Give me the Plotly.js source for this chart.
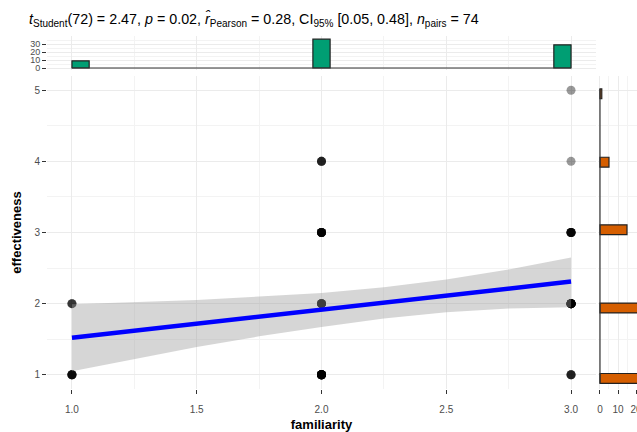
<!DOCTYPE html>
<html>
<head>
<meta charset="utf-8">
<script src="https://cdn.plot.ly/plotly-3.0.1.min.js"></script>
<style>html,body{margin:0;padding:0;background:#fff}#chart{width:637px;height:432px}</style>
</head>
<body>
<div id="chart"></div>
<script>
// ---- data ----
const cellFamiliarity   = [1, 1, 2, 2, 2, 2, 3, 3, 3, 3, 3];
const cellEffectiveness = [1, 2, 1, 2, 3, 4, 1, 2, 3, 4, 5];
const cellCount         = [6, 3, 16, 8, 8, 4, 4, 16, 7, 1, 1];

const familiarityLevels = [1, 2, 3];
const familiarityCounts = [9, 36, 29];
const effectivenessLevels = [1, 2, 3, 4, 5];
const effectivenessCounts = [26, 27, 15, 5, 1];

const fitX    = [1, 1.25, 1.5, 1.75, 2, 2.25, 2.5, 2.75, 3];
const fitY    = [1.52, 1.62, 1.72, 1.82, 1.91, 2.01, 2.11, 2.21, 2.31];
const fitLow  = [1.05, 1.22, 1.39, 1.54, 1.67, 1.79, 1.88, 1.93, 1.95];
const fitHigh = [1.99, 2.02, 2.05, 2.10, 2.15, 2.23, 2.34, 2.48, 2.65];

const xTickVals = [1, 1.5, 2, 2.5, 3];
const xTickText = ['1.0', '1.5', '2.0', '2.5', '3.0'];

// ---- build observations ----
const obsX = [], obsY = [];
cellCount.forEach((n, i) => { for (let k = 0; k < n; k++) { obsX.push(cellFamiliarity[i]); obsY.push(cellEffectiveness[i]); } });

const W = 637, H = 432;
const px = v => v / W, py = v => 1 - v / H;
const grid = '#EBEBEB', minorGrid = '#F3F3F3', tickCol = '#333333', lblCol = '#4D4D4D';
const FF = 'Liberation Sans, Arial, sans-serif';
const font = {family: FF, size: 10, color: lblCol};

const topW = 0.069, sideW = 0.138;
const topOffset = [0, -topW / 2, -topW];
const sideOffset = [-0.12, -0.13, -0.03, -0.08, -0.12];

const traces = [
  {type: 'scatter', mode: 'markers', x: obsX, y: obsY, xaxis: 'x', yaxis: 'y',
   marker: {color: '#000', size: 9, opacity: 0.4, line: {width: 0}}, hoverinfo: 'skip'},
  {type: 'scatter', mode: 'lines', x: fitX.concat(fitX.slice().reverse()), y: fitHigh.concat(fitLow.slice().reverse()),
   fill: 'toself', fillcolor: 'rgba(153,153,153,0.4)', line: {width: 0}, xaxis: 'x', yaxis: 'y', hoverinfo: 'skip'},
  {type: 'scatter', mode: 'lines', x: fitX, y: fitY, line: {color: '#0000FF', width: 4.5}, xaxis: 'x', yaxis: 'y'},
  // top histogram
  {type: 'scatter', mode: 'lines', x: [familiarityLevels[0], familiarityLevels[familiarityLevels.length - 1]], y: [0, 0],
   line: {color: tickCol, width: 1.2}, xaxis: 'x2', yaxis: 'y2'},
  {type: 'bar', x: familiarityLevels, y: familiarityCounts, width: topW, offset: topOffset,
   marker: {color: '#009E73', line: {color: '#222', width: 1.2}}, xaxis: 'x2', yaxis: 'y2'},
  // right histogram
  {type: 'scatter', mode: 'lines', x: [0, 0],
   y: [effectivenessLevels[0] + sideOffset[0], effectivenessLevels[4] + sideOffset[4] + sideW],
   line: {color: tickCol, width: 1.2}, xaxis: 'x3', yaxis: 'y3'},
  {type: 'bar', orientation: 'h', y: effectivenessLevels, x: effectivenessCounts, width: sideW, offset: sideOffset,
   marker: {color: '#D55E00', line: {color: '#222', width: 1.2}}, xaxis: 'x3', yaxis: 'y3'}
];

const mainL = 47, mainR = 596, mainT = 76, mainB = 389;
const layout = {
  width: W, height: H, margin: {l: 0, r: 0, t: 0, b: 0},
  paper_bgcolor: '#fff', plot_bgcolor: '#fff', showlegend: false, bargap: 0,
  font: font,
  xaxis: {domain: [px(mainL), px(mainR)], range: [0.9, 3.1], anchor: 'y', tickvals: xTickVals, ticktext: xTickText,
    ticks: 'outside', ticklen: 4, tickcolor: tickCol, tickwidth: 1, tickfont: font, ticklabelstandoff: 7,
    showgrid: true, gridcolor: grid, gridwidth: 1, zeroline: false, showline: false,
    minor: {tickvals: [1.25, 1.75, 2.25, 2.75], showgrid: true, gridcolor: minorGrid, gridwidth: 1},
    title: {text: '<b>familiarity</b>', font: {family: FF, size: 13, color: '#000'}, standoff: 8}},
  yaxis: {domain: [py(mainB), py(mainT)], range: [0.8, 5.2], anchor: 'x', dtick: 1, tick0: 1,
    ticks: 'outside', ticklen: 4, tickcolor: tickCol, tickwidth: 1, tickfont: font,
    showgrid: true, gridcolor: grid, gridwidth: 1, zeroline: false, showline: false,
    minor: {dtick: 0.5, showgrid: true, gridcolor: minorGrid, gridwidth: 1},
    title: {text: '<b>effectiveness</b>', font: {family: FF, size: 13, color: '#000'}, standoff: 9}},
  xaxis2: {domain: [px(mainL), px(mainR)], range: [0.9, 3.1], anchor: 'y2', tickvals: xTickVals,
    showticklabels: false, ticks: '', showgrid: true, gridcolor: grid, zeroline: false,
    minor: {tickvals: [1.25, 1.75, 2.25, 2.75], showgrid: true, gridcolor: minorGrid}},
  yaxis2: {domain: [py(70), py(36)], range: [-2.5, 40], anchor: 'x2', tickvals: [0, 10, 20, 30],
    ticks: 'outside', ticklen: 4, tickcolor: tickCol, tickfont: {family: FF, size: 9, color: lblCol},
    showgrid: true, gridcolor: grid, zeroline: false,
    minor: {tickvals: [5, 15, 25, 35, 40], showgrid: true, gridcolor: minorGrid}},
  xaxis3: {domain: [px(598), 1], range: [-1.1, 20.55], anchor: 'y3', tickvals: [0, 10, 20],
    ticks: 'outside', ticklen: 4, tickcolor: tickCol, tickfont: font, ticklabeloverflow: 'allow', ticklabelstandoff: 7,
    showgrid: true, gridcolor: grid, zeroline: false,
    minor: {tickvals: [5, 15], showgrid: true, gridcolor: minorGrid}},
  yaxis3: {domain: [py(mainB), py(mainT)], range: [0.8, 5.2], anchor: 'x3', dtick: 1, tick0: 1,
    showticklabels: false, ticks: '', showgrid: true, gridcolor: grid, zeroline: false,
    minor: {dtick: 0.5, showgrid: true, gridcolor: minorGrid}},
  annotations: [{
    xref: 'paper', yref: 'paper', x: px(27), y: py(20), xanchor: 'left', yanchor: 'middle', showarrow: false,
    align: 'left',
    font: {family: FF, size: 14.3, color: '#000'},
    text: '<i>t</i><sub>Student</sub>(72) = 2.47, <i>p</i> = 0.02, <i>r̂</i><sub>Pearson</sub> = 0.28, CI<sub>95%</sub> [0.05, 0.48], <i>n</i><sub>pairs</sub> = 74'
  }]
};

Plotly.newPlot('chart', traces, layout, {staticPlot: true, displayModeBar: false});
</script>
</body>
</html>
